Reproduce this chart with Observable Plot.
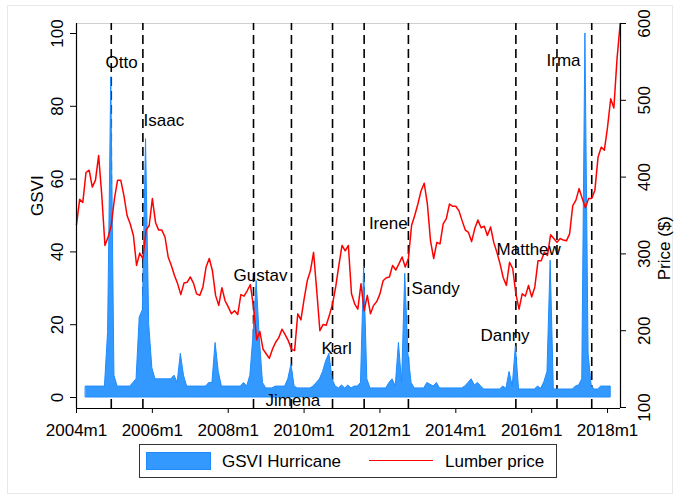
<!DOCTYPE html>
<html>
<head>
<meta charset="utf-8">
<script src="https://cdn.jsdelivr.net/npm/d3@7"></script>
<script src="https://cdn.jsdelivr.net/npm/@observablehq/plot@0.6"></script>
<style>
  body { margin: 0; background: #fff; font-family: "Liberation Sans", Arial, sans-serif; }
  #wrap { position: relative; width: 679px; height: 498px; overflow: hidden; background: #fff; }
  #outer { position: absolute; left: 7px; top: 5px; width: 666px; height: 489px; border: 1px solid #e8e8e8; box-sizing: border-box; }
  #chart { position: absolute; left: 0; top: 0; }
  #legend { position: absolute; left: 139px; top: 444px; width: 418px; height: 34px; border: 1px solid #333; box-sizing: border-box; background: #fff; font-size: 17px; color: #000; }
  #legend .sw { position: absolute; left: 6px; top: 7px; width: 65px; height: 18px; background: #3399ff; border: 1px solid #1e8cff; box-sizing: border-box; }
  #legend .ln { position: absolute; left: 229px; top: 15px; width: 64px; height: 0; border-top: 1.5px solid #ff0000; }
  #legend .t { position: absolute; top: 8px; line-height: 17px; white-space: nowrap; }
</style>
</head>
<body>
<div id="wrap">
  <div id="outer"></div>
  <div id="chart"></div>
  <div id="legend">
    <div class="sw"></div><div class="t" style="left:82px">GSVI Hurricane</div>
    <div class="ln"></div><div class="t" style="left:305px">Lumber price</div>
  </div>
</div>
<script>
// ---------- data ----------
const priceStart = "2004m1";   // monthly lumber price ($)
const lumberPrice = [
  338,371,367,406,409,387,396,428,376,311,322,337,
  372,396,396,376,350,339,324,285,301,294,331,337,
  372,341,331,331,322,296,285,272,261,247,262,263,
  270,262,248,246,257,283,294,278,246,233,256,239,
  231,222,226,221,247,245,252,260,231,188,199,176,
  170,164,176,185,191,202,195,187,176,174,222,214,
  241,265,278,302,252,200,208,207,220,235,257,285,
  311,304,311,248,235,228,261,226,246,222,233,238,
  248,265,269,270,285,279,287,296,283,294,337,350,
  365,382,392,365,317,294,315,313,339,346,365,362,
  362,356,343,331,328,316,333,344,334,336,324,335,
  315,302,287,269,259,289,281,248,228,248,245,259,
  244,257,291,291,302,298,325,320,315,320,318,317,
  326,363,370,385,372,360,372,372,383,426,439,435,
  465,502,490,554,600
];
const gsviStart = "2004m4";    // monthly Google search volume index, "hurricane"
const gsviHurricane = [
  /*2004 Apr-Dec*/ 3,3,3,3,3,3,3,18,88,
  /*2005*/ 6,3,3,3,3,3,4,5,22,24,71,20,
  /*2006*/ 8,5,5,5,5,5,5,6,4,12,6,3,
  /*2007*/ 3,3,3,3,3,3,4,4,15,7,3,3,
  /*2008*/ 3,3,3,3,3,4,3,6,17,32,16,4,
  /*2009*/ 2.5,2.5,2.5,3,3,3,3,5,9,3,2.5,2.5,
  /*2010*/ 2.5,2.5,2.5,3,4,5,7,10,12,5,3,2.5,
  /*2011*/ 3.3,2.5,3.3,2.5,3,3,4,36,5,2.5,2.5,2.5,
  /*2012*/ 2.5,2.5,2.5,4,5,3,15,4,34,12,4,2.5,
  /*2013*/ 2.5,2.5,2.5,4,3.5,3,4,2.5,2.5,2.5,2.5,2.5,
  /*2014*/ 2.5,2.5,2.5,3,4,5,3.3,4,3,2.2,2.2,2.2,
  /*2015*/ 2.2,2.2,2.2,3,2.4,7,3,14,2.2,2.2,2.2,2.2,
  /*2016*/ 2.2,2.2,3,2.4,4.2,7,37.6,2.2,2.2,2.2,2.2,2.2,
  /*2017*/ 2.2,2.2,3,3.3,5,100,12,3,2.2,2.2,3,3,
  /*2018*/ 3,3
];
const hurricaneNames = ["Otto","Isaac","Gustav","Jimena","Karl","Irene","Sandy","Danny","Matthew","Irma"];
const hurricaneDates = ["2004m12","2005m10","2008m9","2009m9","2010m10","2011m8","2012m10","2015m8","2016m9","2017m8"];
const labelYear = [2004.764,2005.767,2008.142,2008.983,2010.458,2011.708,2012.833,2014.65,2015.075,2016.392];
const labelGsvi = [92,76.1,33.5,-0.8,13.5,47.8,29.9,17,40.7,92.6];
const yearTicks = [2004,2006,2008,2010,2012,2014,2016,2018];
const gsviTicks = [0,20,40,60,80,100];
const priceTicks = [100,200,300,400,500,600];

// ---------- helpers ----------
const parseM = s => { const [y, m] = s.split("m").map(Number); return y + (m - 1) / 12; };
const xDomain = [2004, 2004 + 172.1 / 12];
const yDomain = [-3.02, 102.75];
// secondary axis: price ($) -> GSVI space
const pToG = d3.scaleLinear().domain([100, 600]).range([-2.747, 102.75]);

const t0p = parseM(priceStart), t0g = parseM(gsviStart);
const priceData = lumberPrice.map((p, i) => ({t: t0p + i / 12, p}));
const gsviData = gsviHurricane.map((v, i) => ({t: t0g + i / 12, v}));
const lines = hurricaneDates.map(parseM);
const labels = hurricaneNames.map((n, i) => ({n, x: labelYear[i], y: labelGsvi[i]}));

const font = "'Liberation Sans', Arial, sans-serif";

const chart = Plot.plot({
  width: 679, height: 440,
  marginLeft: 76, marginRight: 59, marginTop: 23, marginBottom: 32,
  style: {fontFamily: font, fontSize: "17px", color: "#000", background: "transparent", overflow: "visible"},
  x: {domain: xDomain, label: null},
  y: {domain: yDomain, label: null},
  marks: [
    Plot.ruleY([yDomain[1]], {stroke: "#cfcfcf", strokeWidth: 1.2}),
    Plot.ruleX(lines, {x: d => d, y1: yDomain[0], y2: yDomain[1], stroke: "#000", strokeWidth: 1.6, strokeDasharray: "9,5"}),
    Plot.areaY(gsviData, {x: "t", y: "v", fill: "#3399ff", stroke: "#1e8cff", strokeWidth: 1}),
    Plot.line(priceData, {x: "t", y: d => pToG(d.p), stroke: "#ff0000", strokeWidth: 1.5}),
    Plot.text(labels, {x: "x", y: "y", text: "n", textAnchor: "start", fontSize: 17, fill: "#000"}),
    Plot.axisX({ticks: yearTicks, tickFormat: d => `${d}m1`, tickSize: 5, tickPadding: 10, label: null, fontSize: 17}),
    Plot.axisY({anchor: "left", ticks: gsviTicks, tickSize: 6, tickPadding: 8, tickRotate: -90, label: null, fontSize: 17}),
    Plot.axisY({anchor: "right", ticks: priceTicks.map(pToG), tickFormat: g => String(Math.round(pToG.invert(g))), tickSize: 5, tickPadding: 24, tickRotate: -90, label: null, fontSize: 17}),
    Plot.ruleX([xDomain[0]], {stroke: "#000", strokeWidth: 1.2}),
    Plot.ruleX([xDomain[1]], {stroke: "#000", strokeWidth: 1.2}),
    Plot.ruleY([yDomain[0]], {stroke: "#000", strokeWidth: 1.2}),
    Plot.text(["GSVI"], {text: d => d, frameAnchor: "left", dx: -34, rotate: -90, lineAnchor: "bottom", fontSize: 17, fill: "#000"}),
    Plot.text(["Price ($)"], {text: d => d, frameAnchor: "right", dx: 49, rotate: -90, lineAnchor: "bottom", fontSize: 17, fill: "#000"})
  ]
});
document.getElementById("chart").appendChild(chart);
</script>
</body>
</html>
